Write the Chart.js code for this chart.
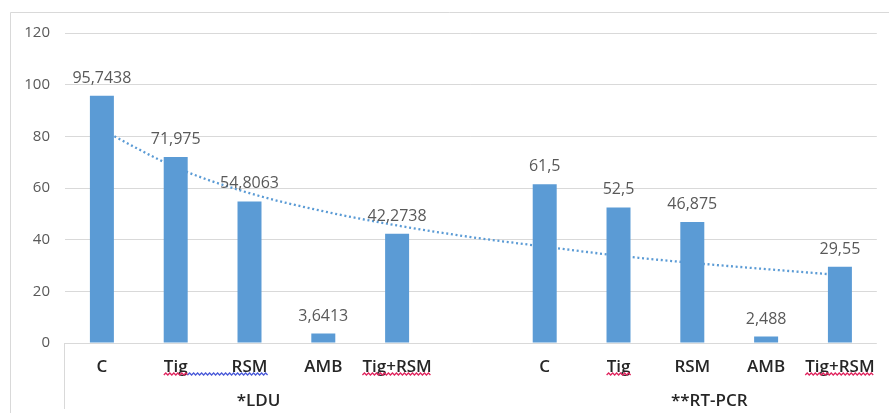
<!DOCTYPE html>
<html>
<head>
<meta charset="utf-8">
<title>LDU / RT-PCR</title>
<script src="https://cdn.jsdelivr.net/npm/chart.js@4/dist/chart.umd.min.js"></script>
<style>
  html, body { margin: 0; padding: 0; background: #ffffff; }
  #wrap { width: 889px; height: 413px; position: relative; }
</style>
</head>
<body>
<div id="wrap"><canvas id="chart" width="889" height="413"></canvas></div>
<script>
// Category names (an empty slot separates the two methods)
const categories = ['C', 'Tig', 'RSM', 'AMB', 'Tig+RSM', '', 'C', 'Tig', 'RSM', 'AMB', 'Tig+RSM'];
// Method groups and which category indices each one spans
const groupNames = ['*LDU', '**RT-PCR'];
const groupFirst = [0, 6];
const groupLast = [4, 10];
// Measured values per category
const values = [95.7438, 71.975, 54.8063, 3.6413, 42.2738, null, 61.5, 52.5, 46.875, 2.488, 29.55];
// Dotted trend curve, read at each category
const trendValues = [82.5, 68, 58, 51, 45.5, 41, 37.3, 33.8, 31, 28.6, 26.3];
// Value axis ticks
const yTicks = [0, 20, 40, 60, 80, 100, 120];
// Labels carrying spell-check underlines: [index, colour, extend-to index]
const flagged = [[1, '#e0245e', null], [1, '#4a5ad8', 2], [4, '#e0245e', null], [7, '#e0245e', null], [10, '#e0245e', null]];

const FONT = '"Open Sans", "Liberation Sans", sans-serif';
const BLUE = '#5b9bd5';

function fmt(v) { return String(v).replace('.', ','); }

function squiggle(ctx, x0, x1, y, color) {
  ctx.save();
  ctx.strokeStyle = color;
  ctx.lineWidth = 1.3;
  ctx.beginPath();
  let up = true;
  ctx.moveTo(x0, y);
  for (let x = x0 + 2; x <= x1 + 0.5; x += 2) {
    ctx.lineTo(x, up ? y - 2 : y);
    up = !up;
  }
  ctx.stroke();
  ctx.restore();
}

const decorations = {
  id: 'decorations',
  beforeDraw(chart) {
    const ctx = chart.ctx;
    const area = chart.chartArea;
    ctx.save();
    ctx.fillStyle = '#ffffff';
    ctx.fillRect(0, 0, chart.width, chart.height);
    // outer frame
    ctx.strokeStyle = '#d9d9d9';
    ctx.lineWidth = 1;
    ctx.beginPath();
    ctx.moveTo(10.5, chart.height);
    ctx.lineTo(10.5, 12.5);
    ctx.lineTo(chart.width, 12.5);
    ctx.stroke();
    // category axis divider below the baseline
    ctx.beginPath();
    ctx.moveTo(Math.round(area.left) - 0.5, area.bottom);
    ctx.lineTo(Math.round(area.left) - 0.5, chart.height - 4);
    ctx.stroke();
    ctx.restore();
  },
  afterDatasetsDraw(chart) {
    const ctx = chart.ctx;
    const meta = chart.getDatasetMeta(0);
    ctx.save();
    ctx.font = '16px ' + FONT;
    ctx.fillStyle = '#595959';
    ctx.textAlign = 'center';
    ctx.textBaseline = 'middle';
    meta.data.forEach((bar, i) => {
      const v = values[i];
      if (v === null || v === undefined) return;
      ctx.fillText(fmt(v), bar.x, bar.y - 17.5);
    });
    ctx.restore();
  },
  afterDraw(chart) {
    const ctx = chart.ctx;
    const x = chart.scales.x;
    ctx.save();
    // group captions under the category names
    ctx.font = '600 17px ' + FONT;
    ctx.fillStyle = '#262626';
    ctx.textAlign = 'center';
    ctx.textBaseline = 'middle';
    const shifts = [9, 17];
    groupNames.forEach((name, g) => {
      const mid = (x.getPixelForValue(groupFirst[g]) + x.getPixelForValue(groupLast[g])) / 2;
      ctx.fillText(name, mid + shifts[g], 401);
    });
    // spell-check underlines
    flagged.forEach(([i, color, to]) => {
      const w = ctx.measureText(categories[i]).width;
      const cx = x.getPixelForValue(i);
      if (to === null) {
        squiggle(ctx, cx - w / 2, cx + w / 2, 375, color);
      } else {
        const w2 = ctx.measureText(categories[to]).width;
        const cx2 = x.getPixelForValue(to);
        squiggle(ctx, cx + w / 2, cx2 + w2 / 2, 375, color);
      }
    });
    ctx.restore();
  }
};

new Chart(document.getElementById('chart'), {
  data: {
    labels: categories,
    datasets: [
      {
        type: 'bar',
        data: values,
        backgroundColor: BLUE,
        borderWidth: 0,
        categoryPercentage: 1,
        barPercentage: 0.325,
        order: 1
      },
      {
        type: 'line',
        data: trendValues,
        borderColor: BLUE,
        borderWidth: 2.3,
        borderDash: [2, 2.7],
        pointRadius: 0,
        cubicInterpolationMode: 'monotone',
        fill: false,
        order: 2
      }
    ]
  },
  options: {
    responsive: false,
    animation: false,
    events: [],
    layout: { padding: { left: 0, right: 9, top: 33, bottom: 0 } },
    plugins: { legend: { display: false }, tooltip: { enabled: false } },
    scales: {
      x: {
        type: 'category',
        grid: { display: false, drawTicks: false },
        border: { display: false },
        ticks: {
          autoSkip: false,
          maxRotation: 0,
          padding: 14,
          color: '#262626',
          font: { family: FONT, size: 17, weight: '600' }
        },
        afterFit(scale) { scale.height = 70; }
      },
      y: {
        min: 0,
        max: 120,
        afterBuildTicks(scale) { scale.ticks = yTicks.map(v => ({ value: v })); },
        grid: { color: '#d9d9d9', lineWidth: 1, drawTicks: false },
        border: { display: false },
        ticks: {
          padding: 15,
          color: '#595959',
          font: { family: FONT, size: 15 }
        },
        afterFit(scale) { scale.width = 65; }
      }
    }
  },
  plugins: [decorations]
});
</script>
</body>
</html>
